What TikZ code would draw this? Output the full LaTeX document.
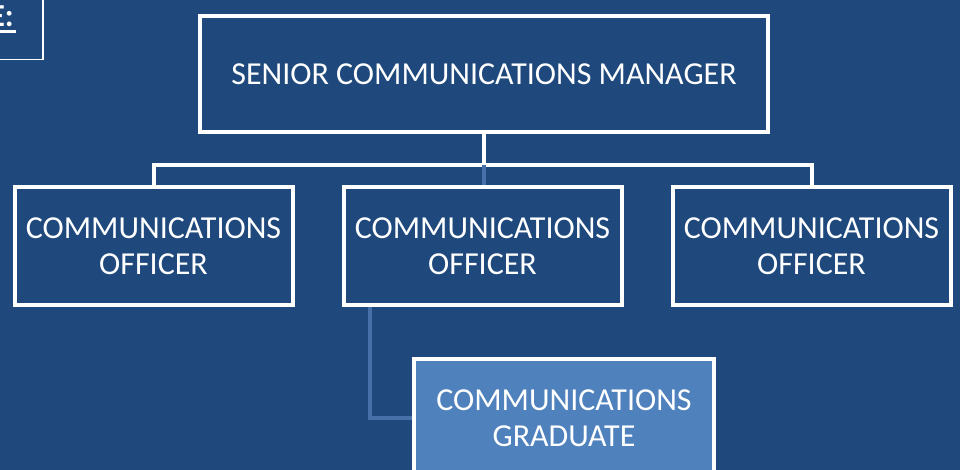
\documentclass[tikz,border=0pt]{standalone}
\usepackage{fontspec}
\setmainfont{Carlito}
\usetikzlibrary{arrows}
\definecolor{bgblue}{RGB}{31,73,125}
\definecolor{gradblue}{RGB}{79,129,189}
\definecolor{linkblue}{RGB}{72,112,168}
\pgfdeclarelayer{background}
\pgfsetlayers{background,main}
\tikzstyle{edge} = [draw,white,line width=4pt]

\begin{document}
\begin{tikzpicture}[x=1pt,y=-1pt,node distance=329pt,
  role/.style={draw=white,line width=4pt,fill=bgblue,text=white,align=center,
    font=\fontsize{32}{35.5}\selectfont,minimum width=278pt,minimum height=118pt,inner sep=0pt}]
  \useasboundingbox (0,0) rectangle (960,470);

  \node[role,minimum width=568pt,minimum height=116pt] (1) at (484,74) {SENIOR COMMUNICATIONS MANAGER};
  \node[role] (3) at (482.5,246) {COMMUNICATIONS\\OFFICER};
  \node[role] (2) [left of=3] {COMMUNICATIONS\\OFFICER};
  \node[role] (4) [right of=3] {COMMUNICATIONS\\OFFICER};
  \node[role,fill=gradblue,minimum width=300pt] (5) at (564,418) {COMMUNICATIONS\\GRADUATE};

  % title box, cut off at the corner
  \node[anchor=base east,text=white,inner sep=0pt,font=\bfseries\fontsize{32}{38}\selectfont] (0) at (14,27) {E:};

  \begin{pgfonlayer}{background}
    \fill[bgblue] (0,0) rectangle (960,470);
    \draw[white,line width=1.5pt] (-20,-20) rectangle (43,59.5);
    \draw[white,line width=2.5pt] (-20,31.5) -- (16,31.5);
    \path[edge] (1.south) -- ++(0,31) coordinate (j) -| (2.north);
    \path[edge] (j) -| (4.north);
    \path[edge,draw=linkblue] (j) -- (j |- 3.north);
    \path[edge,draw=linkblue] ([xshift=28pt]3.south west) |- (5.west);
  \end{pgfonlayer}
\end{tikzpicture}
\end{document}
